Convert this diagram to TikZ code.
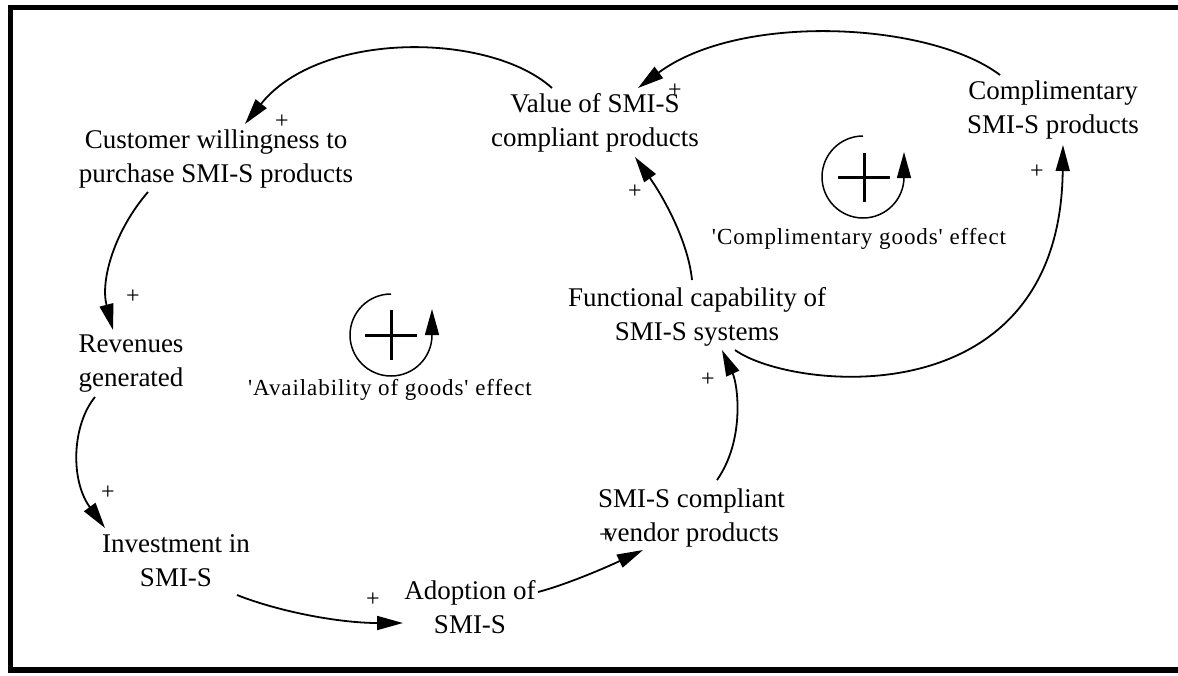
\documentclass[tikz,border=0pt]{standalone}
\usepackage{fontspec}
\setmainfont{Liberation Serif}
\newfontfamily\labfont[LetterSpace=4,Ligatures=ResetAll]{Liberation Serif}
\usetikzlibrary{arrows.meta,calc}
\begin{document}
\begin{tikzpicture}[x=1pt,y=-1pt,
  var/.style={font=\fontsize{27}{34}\selectfont, align=center, text height=53pt, text depth=7pt, inner sep=0pt},
  pol/.style={font=\fontsize{24}{24}\selectfont, inner sep=0pt},
  lab/.style={font=\labfont\fontsize{23}{23}\selectfont, inner sep=0pt, anchor=base},
  link/.style={line width=1.8pt, -{Triangle[length=26pt,width=14pt]}},
  loopc/.style={line width=1.5pt, -{Triangle[length=26pt,width=14pt]}},
  bigplus/.style={line width=3pt},
  frame/.style={line width=5.5pt}]
\useasboundingbox (0,0) rectangle (1178,675);
\draw[frame] (1200,7.5) -- (10.5,7.5) -- (10.5,670) -- (1200,670);

% variables
\node[var] (cust)  at (216,159.5)  {Customer willingness to\\purchase SMI-S products};
\node[var] (value) at (595,123.5)  {Value of SMI-S\\compliant products};
\node[var] (compl) at (1053,110.5) {Complimentary\\SMI-S products};
\node[var] (rev)   at (131,363.5)  {Revenues\\generated};
\node[var] (inv)   at (176,563.5)  {Investment in\\SMI-S};
\node[var] (adopt) at (470,610.5)  {Adoption of\\SMI-S};
\node[var] (vend)  at (691.5,518.5) {SMI-S compliant\\vendor products};
\node[var] (func)  at (697,317.5)  {Functional capability of\\SMI-S systems};

% links
\draw[link] ($(value)+(-43,-35.5)$) .. controls (490,32) and (320,30) .. ($(cust)+(29,-35.5)$);
\draw[link] ($(compl)+(-53,-35.5)$) .. controls (930,22) and (740,12) .. ($(value)+(43,-35.5)$);
\draw[link] ($(cust)+(-68,32.5)$) .. controls (115,230) and (100,280) .. ($(rev)+(-18,-33.5)$);
\draw[link] ($(rev)+(-36,33.5)$) .. controls (72,425) and (70,480) .. ($(inv)+(-71,-35.5)$);
\draw[link] ($(inv)+(61,31.5)$) .. controls (280,612) and (340,623) .. ($(adopt)+(-67,12.5)$);
\draw[link] ($(adopt)+(68,-18.5)$) .. controls (565,585) and (605,568) .. ($(vend)+(-48.5,31.5)$);
\draw[link] ($(vend)+(25.5,-38.5)$) .. controls (745,440) and (738,385) .. ($(func)+(25,32.5)$);
\draw[link] ($(func)+(-5,-37.5)$) .. controls (688,240) and (662,195) .. ($(value)+(40,33.5)$);
\draw[link] ($(func)+(38,32.5)$) .. controls (790,390) and (1060,420) .. ($(compl)+(10,34.5)$);

% polarities
\node[pol] (pA) at (282,122) {+};
\node[pol] (pB) at (675,91)  {+};
\node[pol] (pC) at (133,297) {+};
\node[pol] (pD) at (108,493) {+};
\node[pol] (pE) at (373,600) {+};
\node[pol] (pF) at (606,536) {+};
\node[pol] (pG) at (708,380) {+};
\node[pol] (pH) at (635,192) {+};
\node[pol] (pI) at (1037,172) {+};

% loop markers
\draw[loopc] (391,294) arc[start angle=270, end angle=0, radius=41] -- ++(0,-26);
\draw[bigplus] (365,335) -- (417,335) (391,310) -- (391,360);
\node[lab] (labA) at (390,395) {'Availability of goods' effect};

\draw[loopc] (863,136) arc[start angle=270, end angle=0, radius=41] -- ++(0,-25);
\draw[bigplus] (838,177) -- (890,177) (864,153) -- (864,202);
\node[lab] (labB) at (859,244) {'Complimentary goods' effect};
\end{tikzpicture}
\end{document}
